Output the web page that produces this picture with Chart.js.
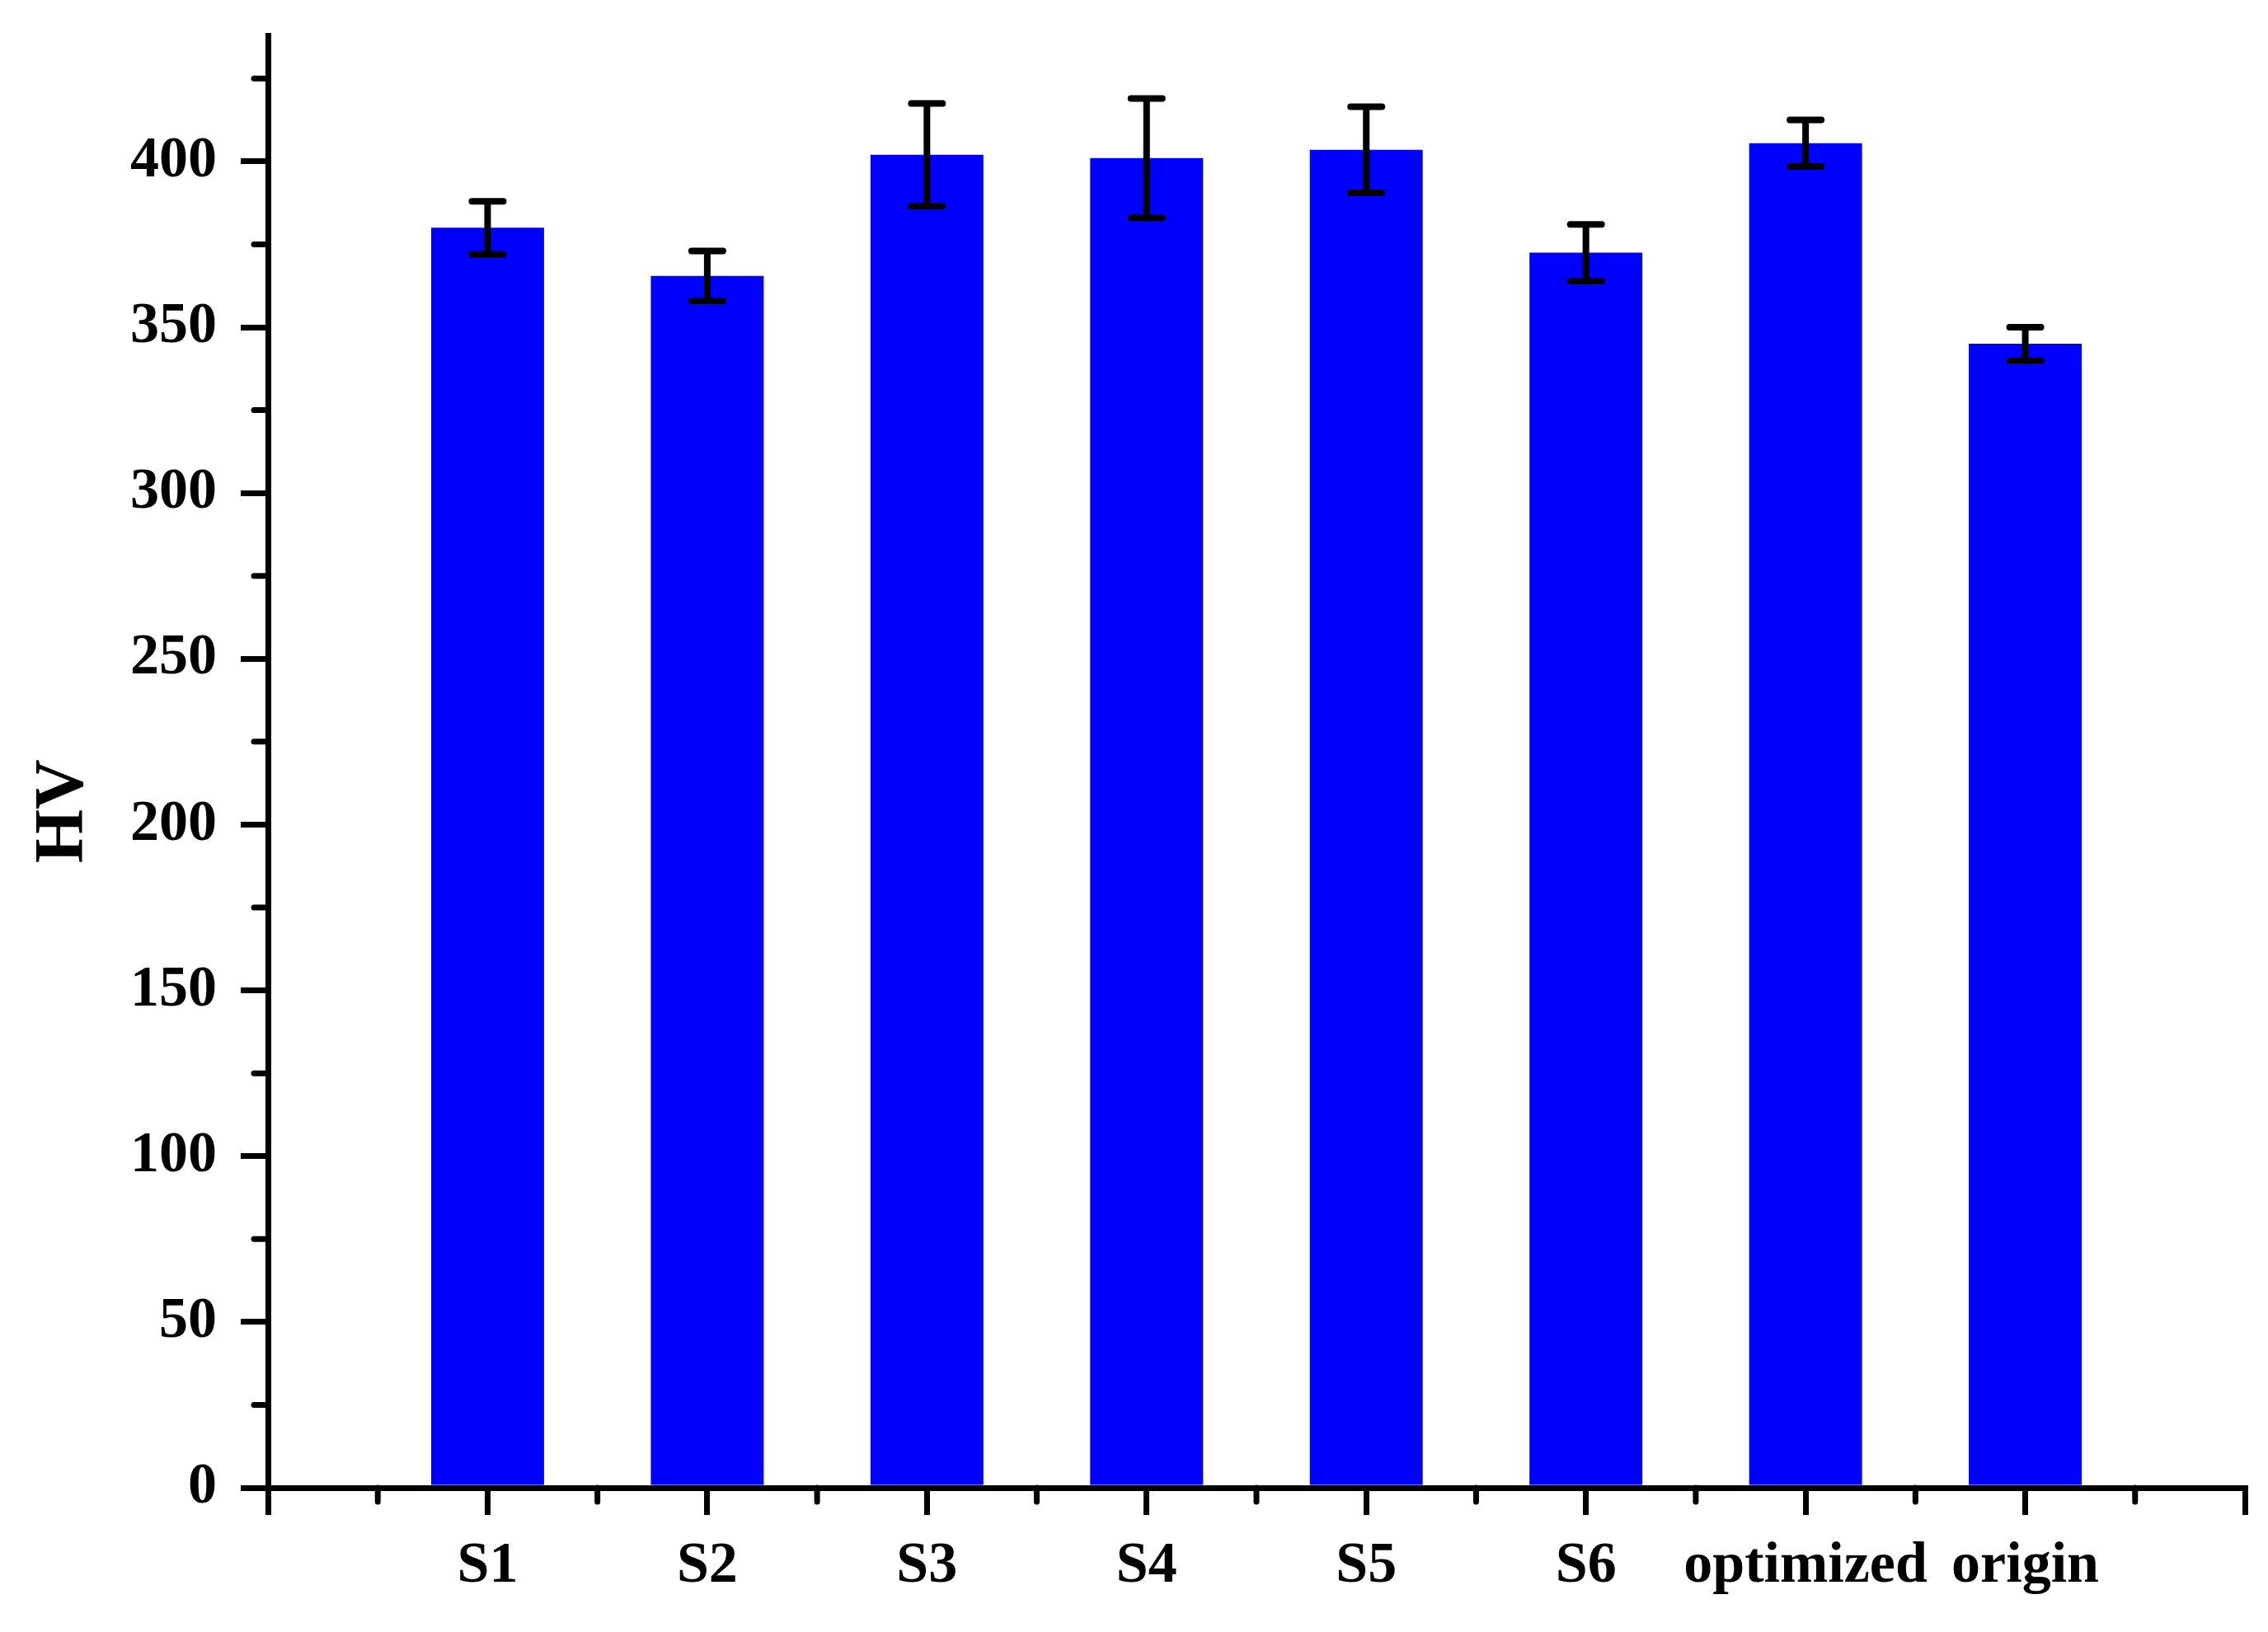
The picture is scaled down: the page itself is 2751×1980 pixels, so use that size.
<!DOCTYPE html>
<html>
<head>
<meta charset="utf-8">
<title>HV</title>
<script src="https://cdn.jsdelivr.net/npm/chart.js@4/dist/chart.umd.min.js"></script>
<style>
  html, body { margin: 0; padding: 0; background: #ffffff; }
  canvas { display: block; }
</style>
</head>
<body>
<canvas id="hvChart" width="2751" height="1980"></canvas>
<script>
// Données du graphique
const categories = ["S1", "S2", "S3", "S4", "S5", "S6", "optimized", "origin"];
const hvValues = [380, 365.5, 402, 401, 403.5, 372.5, 405.5, 345];
const hvErrors = [8, 7.5, 15.5, 18, 13, 8.5, 7, 5];
const yMinorTicks = [25, 75, 125, 175, 225, 275, 325, 375, 425];
const xMinorTicks = [0.5, 1.5, 2.5, 3.5, 4.5, 5.5, 6.5, 7.5, 8.5];
const yTitle = "HV";

const axisFont = { family: "Liberation Serif", weight: "bold", size: 70 };

// Plugin : barres d'erreur, petites graduations et titre de l'axe Y
const extrasPlugin = {
  id: "extras",
  afterDatasetsDraw(chart) {
    const ctx = chart.ctx;
    const xs = chart.scales.x;
    const ys = chart.scales.y;
    ctx.save();
    ctx.strokeStyle = "#000000";
    ctx.lineWidth = 8;
    ctx.lineCap = "round";
    hvValues.forEach((v, i) => {
      const x = xs.getPixelForValue(i + 1);
      const top = ys.getPixelForValue(v + hvErrors[i]);
      const bottom = ys.getPixelForValue(v - hvErrors[i]);
      ctx.beginPath();
      ctx.moveTo(x, top);
      ctx.lineTo(x, bottom);
      ctx.moveTo(x - 19, top);
      ctx.lineTo(x + 19, top);
      ctx.moveTo(x - 19, bottom);
      ctx.lineTo(x + 19, bottom);
      ctx.stroke();
    });
    ctx.restore();
  },
  afterDraw(chart) {
    const ctx = chart.ctx;
    const xs = chart.scales.x;
    const ys = chart.scales.y;
    const area = chart.chartArea;
    ctx.save();
    ctx.strokeStyle = "#000000";
    ctx.lineWidth = 7;
    ctx.lineCap = "round";
    yMinorTicks.forEach((v) => {
      const y = ys.getPixelForValue(v);
      ctx.beginPath();
      ctx.moveTo(area.left, y);
      ctx.lineTo(area.left - 17, y);
      ctx.stroke();
    });
    xMinorTicks.forEach((v) => {
      const x = xs.getPixelForValue(v);
      ctx.beginPath();
      ctx.moveTo(x, area.bottom);
      ctx.lineTo(x, area.bottom + 17);
      ctx.stroke();
    });

    // Titre de l'axe Y (un peu sous le milieu, comme dans l'original)
    ctx.translate(78, ys.getPixelForValue(204));
    ctx.rotate(-Math.PI / 2);
    ctx.fillStyle = "#000000";
    ctx.font = "bold 84px 'Liberation Serif'";
    ctx.textAlign = "center";
    ctx.textBaseline = "middle";
    ctx.fillText(yTitle, 0, 0);
    ctx.restore();
  },
};

document.addEventListener("DOMContentLoaded", () => {
  const ctx = document.getElementById("hvChart").getContext("2d");

  new Chart(ctx, {
    type: "bar",
    data: {
      datasets: [
        {
          label: "HV",
          data: hvValues.map((v, i) => ({ x: i + 1, y: v })),
          backgroundColor: "#0000FF",
          borderWidth: 0,
          barPercentage: 0.514,
          categoryPercentage: 1,
        },
      ],
    },
    options: {
      responsive: false,
      animation: false,
      layout: {
        padding: { top: 43, right: 28, bottom: 16, left: 0 },
      },
      plugins: {
        legend: { display: false },
        tooltip: { enabled: false },
      },
      scales: {
        x: {
          type: "linear",
          min: 0,
          max: 9,
          offset: false,
          z: 1,
          border: { display: true, color: "#000000", width: 7 },
          grid: {
            offset: false,
            drawOnChartArea: false,
            drawTicks: true,
            tickLength: 33,
            tickWidth: 7,
            tickColor: "#000000",
            lineWidth: 7,
            color: "#000000",
          },
          ticks: {
            stepSize: 1,
            autoSkip: false,
            maxRotation: 0,
            padding: 21,
            color: "#000000",
            font: axisFont,
            callback: (value) => categories[value - 1] || "",
          },
        },
        y: {
          min: 0,
          max: 438,
          z: 1,
          border: { display: true, color: "#000000", width: 7 },
          grid: {
            drawOnChartArea: false,
            drawTicks: true,
            tickLength: 33,
            tickWidth: 7,
            tickColor: "#000000",
            lineWidth: 7,
            color: "#000000",
          },
          ticks: {
            stepSize: 50,
            includeBounds: false,
            padding: 29,
            color: "#000000",
            font: axisFont,
          },
          afterFit: (scale) => {
            scale.paddingTop = 0;
            scale.width = 325;
          },
        },
      },
    },
    plugins: [extrasPlugin],
  });
});
</script>
</body>
</html>
